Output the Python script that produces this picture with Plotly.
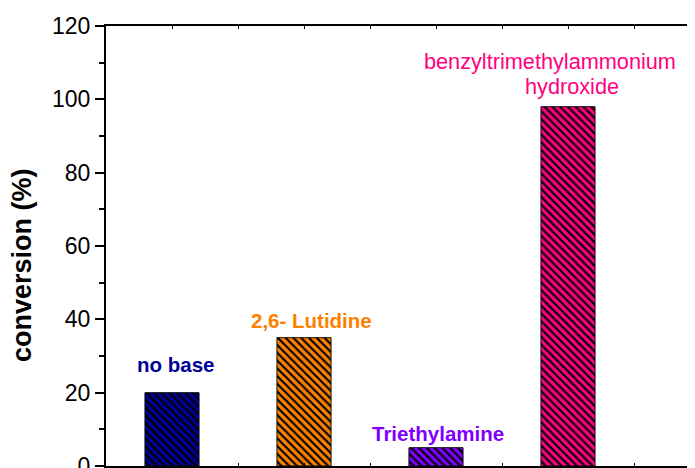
import plotly.graph_objects as go

categories = ["no base", "2,6- Lutidine", "Triethylamine", "benzyltrimethylammonium hydroxide"]
positions = [1, 2, 3, 4]
conversion = [20, 35, 5, 98]
colors = ["#000099", "#FF8000", "#8000FF", "#FF0080"]
y_ticks = [0, 20, 40, 60, 80, 100, 120]

# label placement (styling): value-axis height of each label line, pixel nudges
label_lines_y = [[27.8], [39.8], [9.0], [110.3, 103.5]]
label_xshift = [[3], [7], [2], [-18, 4]]
label_bold = [True, True, True, False]

FONT = "Liberation Sans, Arial, sans-serif"

# the page body has an 8px default margin; the figure is sized to fill the rest
W, H = 687, 460
L, T = 98, 18
PW, PH = 589, 440

fig = go.Figure()
for xp, name, val, col in zip(positions, categories, conversion, colors):
    fig.add_trace(go.Bar(
        x=[xp], y=[val], width=0.41, name=name,
        marker=dict(
            color=col,
            line=dict(color="#111111", width=1),
            pattern=dict(shape="\\", fgcolor="#000000", bgcolor=col, fgopacity=1,
                         size=5.5, solidity=0.4, fillmode="overlay"),
        ),
        showlegend=False,
    ))

for xp, name, col, ys, xs, b in zip(positions, categories, colors, label_lines_y, label_xshift, label_bold):
    words = [name] if len(ys) == 1 else name.rsplit(" ", 1)
    for line, ly, dx in zip(words, ys, xs):
        txt = f"<b>{line}</b>" if b else line
        fig.add_annotation(
            x=xp, y=ly, xref="x", yref="y", text=txt, showarrow=False, xshift=dx,
            font=dict(family=FONT, size=20.5 if b else 21.7, color=col),
            xanchor="center", yanchor="middle", align="center",
        )

fig.add_annotation(
    x=(22 - 106) / PW, y=(466 - 265) / PH, xref="paper", yref="paper",
    text="<b>conversion (%)</b>", textangle=-90, showarrow=False,
    font=dict(family=FONT, size=27, color="#000000"),
    xanchor="center", yanchor="middle",
)

fig.update_layout(
    width=W, height=H,
    margin=dict(l=L, r=W - L - PW, t=T, b=H - T - PH, autoexpand=False),
    plot_bgcolor="white", paper_bgcolor="white",
    font=dict(family=FONT, color="#000000"),
    barmode="overlay",
    xaxis=dict(
        range=[0.5, 0.5 + PW / 132], showgrid=False, zeroline=False, automargin=False,
        showline=True, linecolor="#000000", linewidth=2, mirror="ticks",
        ticks="inside", ticklen=3, tickwidth=1, tickcolor="#000000",
        tick0=0.5, dtick=0.5, showticklabels=False,
    ),
    yaxis=dict(
        range=[0, 120], showgrid=False, zeroline=False, automargin=False,
        showline=True, linecolor="#000000", linewidth=2,
        ticks="outside", ticklen=9, tickwidth=1.5, tickcolor="#000000",
        tickvals=y_ticks, tickfont=dict(family=FONT, size=23, color="#000000"),
        ticklabeloverflow="allow",
        minor=dict(dtick=10, ticks="outside", ticklen=5, tickwidth=1.5, tickcolor="#000000"),
    ),
)

fig.write_html("out.html")
